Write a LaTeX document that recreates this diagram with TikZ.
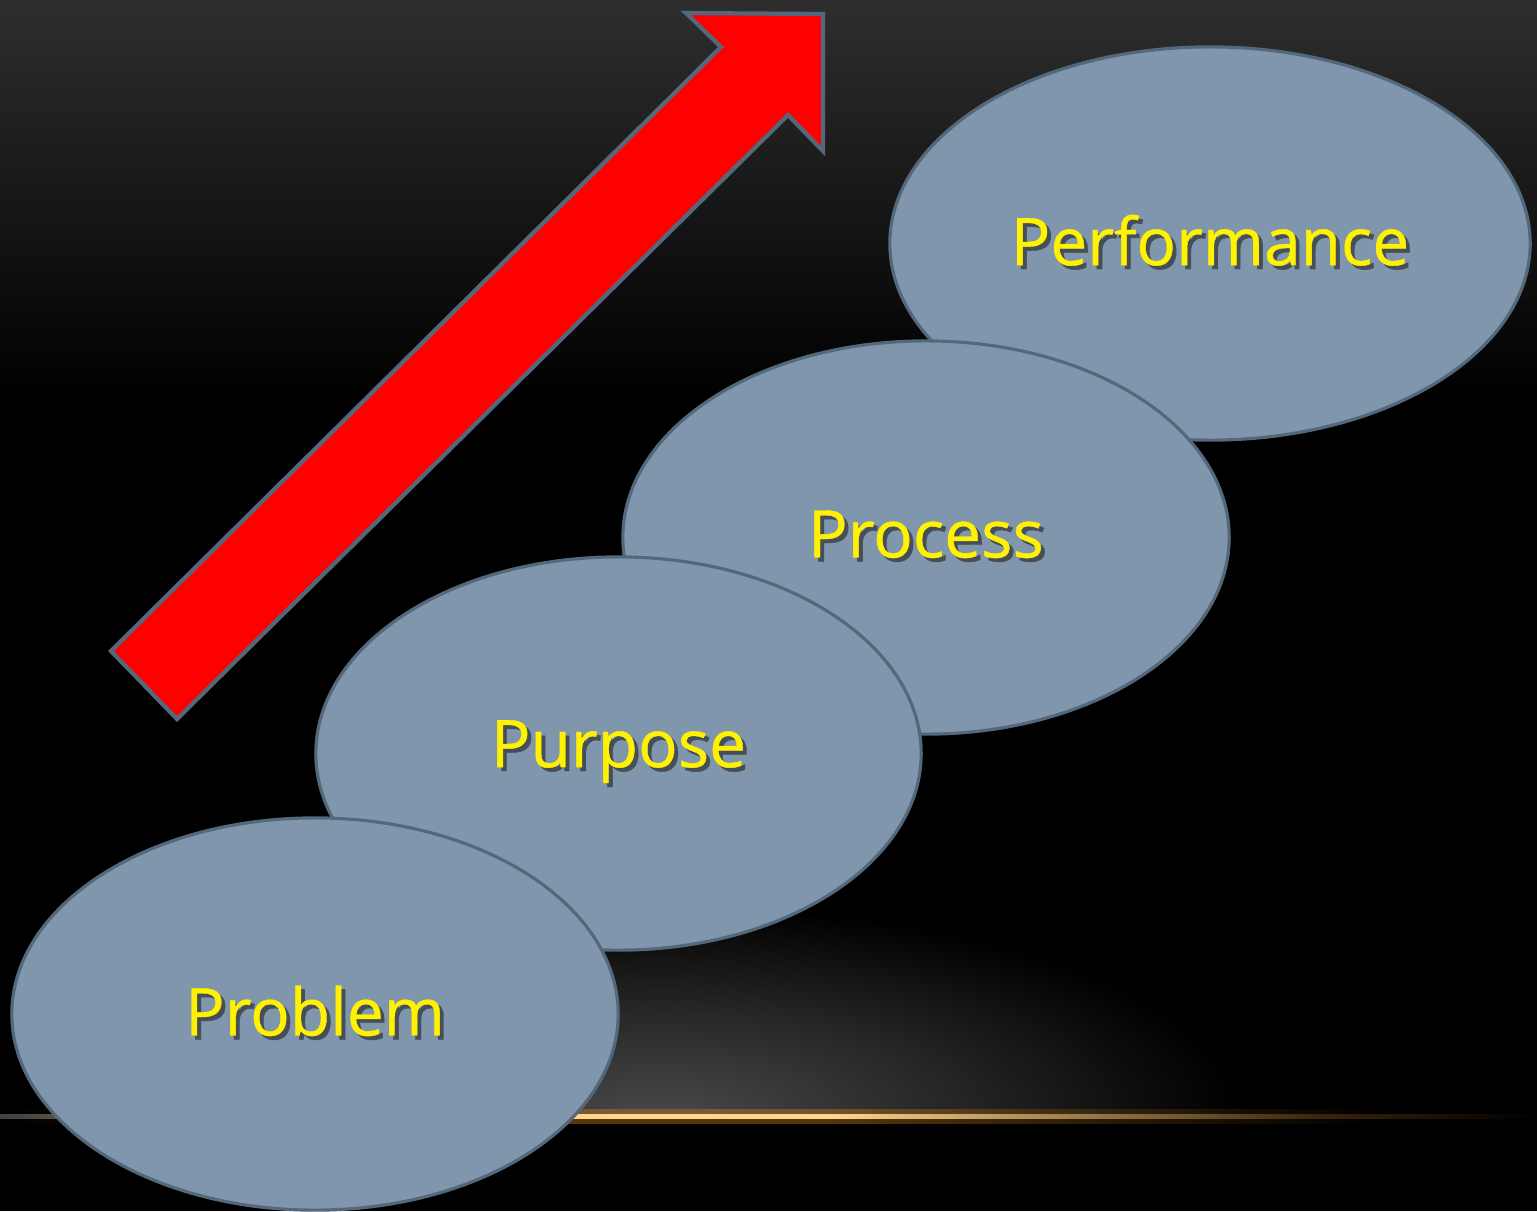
\documentclass[tikz,border=0pt]{standalone}
\usepackage{fontspec}
\setmainfont{Open Sans}
\newfontfamily\stairfont{Open Sans}[FakeBold = 0.6]
\usetikzlibrary{shapes.geometric}
\tikzset{>=latex}
\definecolor{myslate}{RGB}{127, 150, 173}
\definecolor{myedge}{RGB}{84, 104, 124}
\definecolor{mytop}{RGB}{46, 46, 46}
\definecolor{myglow}{RGB}{72, 72, 72}
\definecolor{mygold}{RGB}{255, 214, 140}
\definecolor{myamber}{RGB}{190, 120, 30}
\definecolor{myshadow}{RGB}{70, 78, 88}
\pgfdeclareradialshading{glowshade}{\pgfpoint{0cm}{0cm}}{color(0bp)=(myglow); color(12bp)=(myglow!55!black); color(25bp)=(black); color(50bp)=(black)}
\pgfdeclarehorizontalshading{lineshade}{100bp}{color(0bp)=(black!75); color(25bp)=(black!75); color(42bp)=(mygold); color(52bp)=(mygold); color(68bp)=(myamber!30!black); color(75bp)=(black); color(100bp)=(black)}
\pgfdeclarehorizontalshading{haloshade}{100bp}{color(0bp)=(black); color(25bp)=(black); color(42bp)=(myamber); color(52bp)=(myamber); color(70bp)=(black); color(100bp)=(black)}
\newcommand{\shadowed}[1]{\raisebox{2pt}{\makebox[0pt][l]{\hspace{1.1pt}\raisebox{-1.1pt}{\color{myshadow}#1}}#1}}
\tikzset{stair/.style = {ellipse, draw = myedge, fill = myslate, line width = 0.9pt, inner sep = 0pt, text = yellow, font = \stairfont\fontsize{18.7}{22}\selectfont}}

\begin{document}
\begin{tikzpicture}[x = 0.01cm, y = -0.01cm]
\useasboundingbox (0, 0) rectangle (1537, 1211);
\fill[black] (0, 0) rectangle (1537, 1211);
\shade[top color = mytop, bottom color = black] (0, 0) rectangle (1537, 400);
\begin{scope}
\clip (0, 880) rectangle (1537, 1114);
\shade[shading = glowshade] (660, 1114) ellipse (580 and 210);
\end{scope}
\shade[shading = haloshade, opacity = 0.45] (0, 1109) rectangle (1537, 1123);
\shade[shading = lineshade] (0, 1114) rectangle (1537, 1118);

\node[stair, minimum width = 6.40cm, minimum height = 3.93cm] (perf) at (1210, 243.5) {\shadowed{Performance}};
\node[stair, minimum width = 6.06cm, minimum height = 3.93cm] (proc) at (926, 537.5) {\shadowed{Process}};
\node[stair, minimum width = 6.05cm, minimum height = 3.93cm] (purp) at (618.5, 753.5) {\shadowed{Purpose}};
\node[stair, minimum width = 6.06cm, minimum height = 3.92cm] (prob) at (315, 1014) {\shadowed{Problem}};

\draw[fill = red, draw = myedge, line width = 1.2pt, line join = miter] (111, 651) -- (721, 47) -- (686, 13) -- (823, 14) -- (823, 151) -- (788, 115) -- (177, 719) -- cycle;
\end{tikzpicture}
\end{document}
